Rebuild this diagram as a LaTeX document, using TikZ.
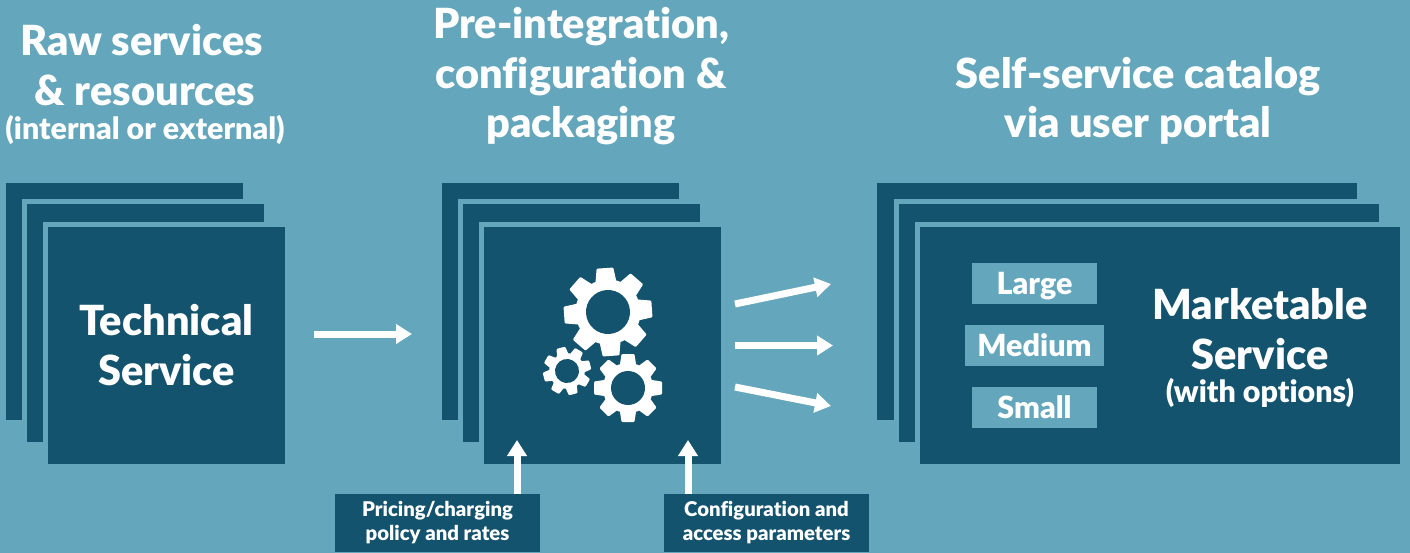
\documentclass[tikz,border=0pt]{standalone}
\usepackage{fontspec}
\setmainfont{Lato}[BoldFont={Lato Black},Ligatures=NoCommon]
\usepackage{tikz}
\usetikzlibrary{arrows.meta}
\definecolor{sky}{HTML}{64A6BB}
\definecolor{deep}{HTML}{14536D}
\tikzstyle{card}=[fill=deep,draw=sky,line width=5pt,inner sep=0pt]
\tikzstyle{title}=[text=white,align=center,font=\bfseries\fontsize{41.5}{49.5}\selectfont]
\tikzstyle{aside}=[text=white,align=center,font=\bfseries\fontsize{30.4}{32}\selectfont]
\tikzstyle{option}=[fill=sky,text=white,font=\bfseries\fontsize{30.5}{32}\selectfont,minimum height=41pt,text height=22pt,text depth=0pt,inner sep=0pt]
\tikzstyle{input}=[fill=deep,text=white,align=center,font=\bfseries\fontsize{20.3}{24}\selectfont,minimum width=205pt,minimum height=58pt,inner sep=0pt]
\tikzstyle{flow}=[draw=white,line width=7pt,-{Triangle[length=16pt,width=19pt]}]
% centre, outer radius, rotation
\newcommand{\drawgear}[3]{
  \begin{scope}[shift={#1},rotate=#3]
    \fill[white] (0,0) circle ({0.74*#2});
    \foreach \a in {0,45,...,315}
      \fill[white,rotate=\a,rounded corners=1pt] ({-0.25*#2},{0.6*#2}) -- ({-0.19*#2},#2) -- ({0.19*#2},#2) -- ({0.25*#2},{0.6*#2}) -- cycle;
    \fill[deep] (0,0) circle ({0.5*#2});
  \end{scope}
}

\begin{document}
\begin{tikzpicture}[x=1pt,y=-1pt]
  \useasboundingbox (0,0) rectangle (1410,553);
  \fill[sky] (0,0) rectangle (1410,553);
  \foreach \place/\name in {{(124.5,301.5)/t1},
                            {(145.5,323)/t2},
                            {(166.5,345.5)/t3},
                            {(560.5,301.5)/p1},
                            {(581.5,323)/p2},
                            {(602.5,345.5)/p3}}
    \node[card,minimum width=242pt,minimum height=242pt] (\name) at \place {};
  \foreach \place/\name in {{(1117,301.5)/m1},
                            {(1139,323)/m2},
                            {(1160,345.5)/m3}}
    \node[card,minimum width=485pt,minimum height=242pt] (\name) at \place {};

  \node[title] (raw) at (145,65) {Raw services\hspace*{7pt}\\\& resources};
  \node[aside] (rawnote) at (145,129.5) {(internal or external)};
  \node[title] (pre) at (581,76.5) {Pre-integration,\\configuration \&\\packaging};
  \node[title] (self) at (1138,101) {Self-service catalog\\via user portal};

  \node[title] at (166.5,345) (tech) {Technical\\Service};
  \node[title] at (1260,329) (market) {Marketable\\Service};
  \node[aside] at (1260,392.5) (marketnote) {(with options)};

  \node[option,minimum width=125pt] (large) at (1034.5,283.5) {Large};
  \node[option,minimum width=139pt] (medium) at (1034.5,345.5) {Medium};
  \node[option,minimum width=125pt] (small) at (1034.5,407.5) {Small};

  \node[input] (pricing) at (437.5,523) {Pricing/charging\\policy and rates};
  \node[input] (config) at (766.5,523) {Configuration and\\access parameters};

  \drawgear{(608,312)}{44}{4}
  \drawgear{(628,388)}{34}{0}
  \drawgear{(567,371)}{24}{15}

  \coordinate (in1) at (517,440);
  \coordinate (in2) at (688,440);
  \coordinate (a) at (314,334);
  \coordinate (b) at (412,334);
  \coordinate (c) at (735,304);
  \coordinate (d) at (831,284);
  \coordinate (e) at (735,345.5);
  \coordinate (f) at (833,345.5);
  \coordinate (g) at (735,387);
  \coordinate (h) at (831,406);
  \foreach \source/\dest in {a/b,c/d,e/f,g/h}
    \draw[flow] (\source) -- (\dest);
  \draw[flow] (pricing.north -| in1) -- (in1);
  \draw[flow] (config.north -| in2) -- (in2);
\end{tikzpicture}
\end{document}
